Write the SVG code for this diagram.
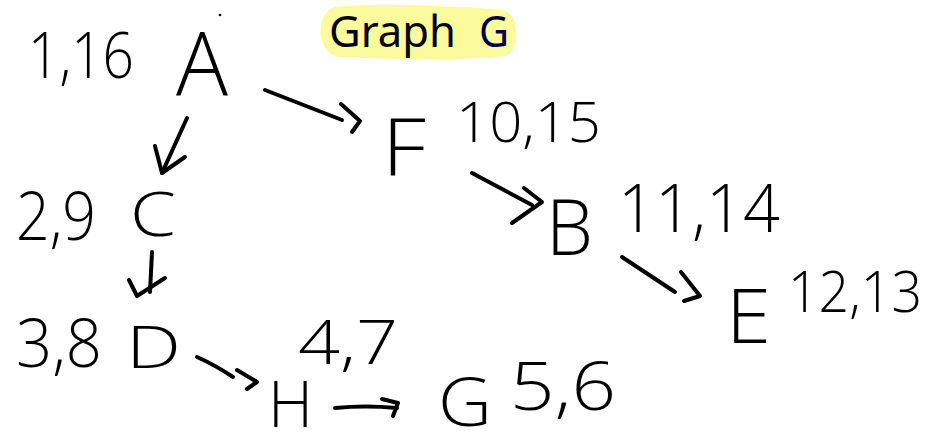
<svg xmlns="http://www.w3.org/2000/svg" width="930" height="446" viewBox="0 0 930 446">
<style>
.lbl{font-family:"Open Sans","Noto Sans","DejaVu Sans",sans-serif;font-weight:300;fill:#000;}
.title{font-family:"Noto Sans","DejaVu Sans",sans-serif;font-size:44px;}
.c{fill:none;stroke:#000;stroke-width:4;stroke-linecap:round;stroke-linejoin:round;}
</style>
<rect width="930" height="446" fill="#fff"/>
<g id="title">
<path d="M336,7 C380,3 460,6 502,10 C520,12 521,50 506,56 C460,61 380,59 340,57 C316,55 314,11 336,7 Z" fill="#fbfa9c"/>
<text class="title" x="329" y="47" textLength="127" lengthAdjust="spacingAndGlyphs" fill="#000">Graph</text>
<text class="title" x="479" y="47" textLength="30" lengthAdjust="spacingAndGlyphs" fill="#00004a">G</text>
</g>
<circle cx="220" cy="15" r="1.3" fill="#000"/>
<g id="connectors">
<path class="c" d="M187,118 L162,173"/><polyline class="c" points="155,146 162,173 185,157"/>
<path class="c" d="M265,90 L342,120"/><polyline class="c" points="341,104 360,121 352,132"/>
<path class="c" d="M472,173 L532,205"/><polyline class="c" points="524,188 542,202 512,223"/>
<path class="c" d="M622,257 L675,292"/><polyline class="c" points="681,272 700,296 684,301"/>
<path class="c" d="M152,252 L150,292"/><polyline class="c" points="129,280 137,296 165,278"/>
<path class="c" d="M197,357 Q215,365 233,377"/><polyline class="c" points="237,370 257,382 247,389"/>
<path class="c" d="M335,408 Q365,405 397,408"/><polyline class="c" points="382,399 398,403 393,416"/>
</g>
<g id="node-A"><text class="lbl" x="176" y="95" font-size="88" textLength="52" lengthAdjust="spacingAndGlyphs">A</text><text class="lbl" x="28" y="78" font-size="64" textLength="106" lengthAdjust="spacingAndGlyphs">1,16</text></g>
<g id="node-F"><text class="lbl" x="382" y="175" font-size="80" textLength="44" lengthAdjust="spacingAndGlyphs">F</text><text class="lbl" x="456" y="142" font-size="56" textLength="145" lengthAdjust="spacingAndGlyphs">10,15</text></g>
<g id="node-B"><text class="lbl" x="546" y="255" font-size="77" textLength="47" lengthAdjust="spacingAndGlyphs">B</text><text class="lbl" x="618" y="232" font-size="66" textLength="162" lengthAdjust="spacingAndGlyphs">11,14</text></g>
<g id="node-E"><text class="lbl" x="726" y="343" font-size="75" textLength="45" lengthAdjust="spacingAndGlyphs">E</text><text class="lbl" x="788" y="312" font-size="57" textLength="134" lengthAdjust="spacingAndGlyphs">12,13</text></g>
<g id="node-C"><text class="lbl" x="130" y="236" font-size="60" textLength="46" lengthAdjust="spacingAndGlyphs">C</text><text class="lbl" x="16" y="240" font-size="66" textLength="80" lengthAdjust="spacingAndGlyphs">2,9</text></g>
<g id="node-D"><text class="lbl" x="126" y="368" font-size="59" textLength="55" lengthAdjust="spacingAndGlyphs">D</text><text class="lbl" x="16" y="367" font-size="66" textLength="86" lengthAdjust="spacingAndGlyphs">3,8</text></g>
<g id="node-H"><text class="lbl" x="268" y="427" font-size="64" textLength="45" lengthAdjust="spacingAndGlyphs">H</text><text class="lbl" x="298" y="364" font-size="60" textLength="100" lengthAdjust="spacingAndGlyphs">4,7</text></g>
<g id="node-G"><text class="lbl" x="438" y="426" font-size="66" textLength="54" lengthAdjust="spacingAndGlyphs">G</text><text class="lbl" x="510" y="410" font-size="66" textLength="106" lengthAdjust="spacingAndGlyphs">5,6</text></g>
</svg>
